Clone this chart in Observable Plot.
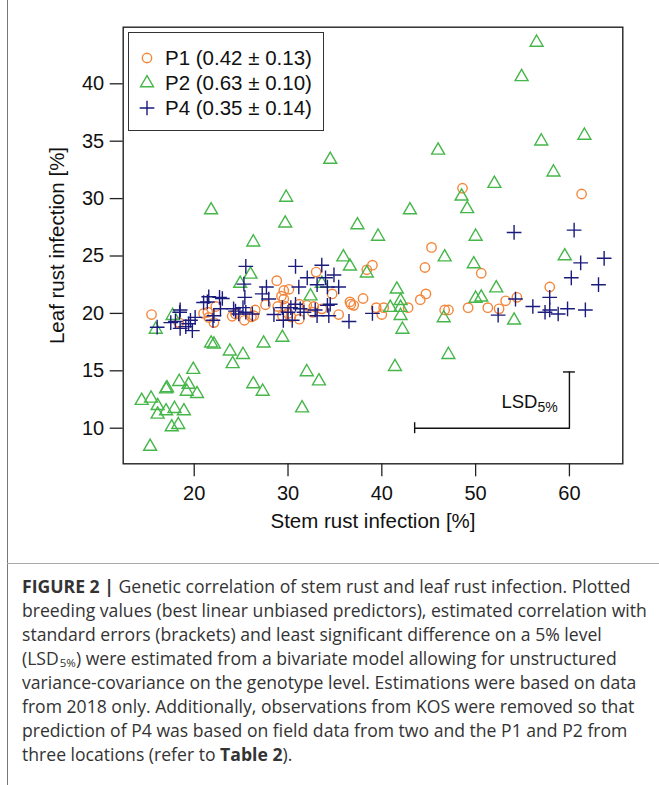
<!DOCTYPE html>
<html>
<head>
<meta charset="utf-8">
<script src="https://cdn.jsdelivr.net/npm/d3@7"></script>
<script src="https://cdn.jsdelivr.net/npm/@observablehq/plot@0.6"></script>
<style>
  html, body { margin: 0; padding: 0; background: #fff; }
  #fig { position: relative; width: 659px; height: 785px; overflow: hidden; }
  #chart { position: absolute; left: 0; top: 0; }
  #leftline { position: absolute; left: 7px; top: 0; width: 1px; height: 785px; background: #777; }
  #capline { position: absolute; left: 7px; top: 563px; width: 652px; height: 1px; background: #aaa; }
  #legend { position: absolute; left: 128px; top: 32px; width: 196px; height: 99px;
            border: 1.3px solid #333; font-family: "Liberation Sans", Arial, sans-serif;
            font-size: 20.5px; color: #111; box-sizing: border-box; }
  #legend .row { position: absolute; left: 0; height: 24px; white-space: nowrap; }
  #legend svg { position: absolute; left: 8px; top: 2px; }
  #legend span { position: absolute; left: 36px; top: 0; line-height: 24px; }
  #caption { position: absolute; left: 22px; top: 574px; font-family: "Open Sans", sans-serif;
             font-size: 17.6px; line-height: 24px; color: #333; white-space: nowrap; }
  #caption sub { font-size: 11.5px; line-height: 1; vertical-align: -2px; margin-left: 1px; }
</style>
</head>
<body>
<div id="fig">
  <div id="chart"></div>
  <div id="leftline"></div>
  <div id="legend"></div>
  <div id="capline"></div>
  <div id="caption"></div>
</div>
<script>
// ---- data ----
const seriesNames = ["P1", "P2", "P4"];
const seriesStats = ["0.42 ± 0.13", "0.63 ± 0.10", "0.35 ± 0.14"];
const seriesColors = ["#f4863b", "#45b649", "#1b1b7d"];
const seriesSymbols = ["circle", "triangle", "plus"];

const p1x = [48.6, 61.3, 45.3, 44.6, 39.0, 38.4, 50.6, 33.0, 28.8, 57.9, 30.1, 29.55, 34.7, 44.7, 29.3, 54.4, 38.0, 29.55, 44.1, 53.2,
             36.6, 31.2, 36.7, 37.0, 27.6, 32.0, 28.9, 29.7, 32.75, 39.4, 40.2, 42.8, 49.2, 51.3, 33.6, 46.7, 47.1, 52.5, 26.5, 22.3,
             32.6, 21.45, 21.0, 30.0, 40.0, 35.4, 15.45, 24.4, 24.05, 26.35, 29.4, 30.3, 21.55, 26.1, 31.2, 25.35, 18.35, 22.1];
const p1y = [30.9, 30.4, 25.75, 24.0, 24.2, 23.8, 23.5, 23.6, 22.85, 22.3, 22.1, 22.0, 21.7, 21.7, 21.5, 21.4, 21.3, 21.25, 21.2, 21.1,
             21.0, 20.8, 20.8, 20.7, 20.75, 20.7, 20.6, 20.6, 20.6, 20.5, 20.5, 20.5, 20.5, 20.5, 20.4, 20.3, 20.3, 20.4, 20.3, 20.6,
             20.1, 20.1, 20.0, 20.0, 19.9, 19.9, 19.9, 19.95, 19.75, 19.8, 19.8, 19.7, 19.65, 19.7, 19.5, 19.4, 19.2, 19.2];

const p2x = [56.5, 54.9, 57.0, 61.6, 46.0, 58.3, 34.5, 52.0, 48.5, 29.8, 21.8, 43.0, 49.1, 29.7, 37.4, 39.6, 50.0, 26.3, 35.9, 46.7,
             59.5, 36.6, 49.8, 38.4, 26.0, 24.9, 33.6, 41.6, 52.2, 32.4, 42.0, 50.0, 50.6, 40.9, 42.0, 42.0, 46.6, 54.1, 42.2, 17.7,
             15.9, 29.4, 21.8, 22.1, 27.4, 23.8, 25.2, 47.1, 24.1, 41.4, 19.9, 32.0, 33.3, 18.4, 26.3, 19.4, 17.1, 17.0, 19.2, 27.3,
             20.3, 14.4, 15.4, 16.1, 31.5, 17.9, 17.0, 18.9, 16.1, 18.3, 17.6, 15.3];
const p2y = [43.6, 40.6, 35.0, 35.5, 34.2, 32.3, 33.4, 31.3, 30.2, 30.1, 29.0, 29.0, 29.1, 27.85, 27.7, 26.7, 26.7, 26.2, 24.9, 24.9,
             25.0, 24.1, 24.3, 23.5, 23.4, 22.6, 22.6, 22.1, 22.2, 21.5, 21.1, 21.3, 21.4, 20.5, 20.5, 19.8, 19.6, 19.4, 18.6, 19.8,
             18.6, 17.9, 17.4, 17.3, 17.4, 16.7, 16.4, 16.4, 15.6, 15.35, 15.1, 14.9, 14.1, 14.05, 13.85, 13.8, 13.5, 13.4, 13.2, 13.2,
             13.0, 12.4, 12.6, 11.95, 11.75, 11.7, 11.5, 11.5, 11.2, 10.3, 10.1, 8.4];

const p4x = [54.1, 60.5, 63.7, 61.2, 60.2, 63.1, 57.9, 56.1, 57.4, 58.8, 59.8, 61.7, 54.25, 52.4, 57.9, 36.5, 39.0, 25.5, 25.3, 27.7,
             21.4, 23.0, 21.55, 22.7, 16.05, 17.5, 18.45, 19.1, 19.8, 19.6, 21.0, 22.1, 22.8, 24.2, 24.75, 25.5, 25.4, 18.0, 18.5, 19.4,
             20.1, 18.5, 22.0, 24.4, 25.2, 28.5, 29.4, 30.3, 31.7, 33.1, 34.35, 34.5, 29.5, 30.0, 31.3, 30.8, 33.6, 34.9, 34.0, 32.05,
             31.15, 33.1, 35.4, 27.25, 27.95, 30.8, 30.45, 32.9, 34.2, 26.2, 34.2];
const p4y = [27.05, 27.25, 24.8, 24.4, 23.1, 22.5, 21.4, 20.6, 20.1, 19.95, 20.4, 20.3, 21.25, 19.85, 20.3, 19.3, 20.0, 24.1, 22.55, 22.3,
             21.0, 21.3, 21.45, 21.4, 18.8, 19.2, 20.1, 18.85, 18.5, 19.4, 20.95, 19.8, 20.4, 20.4, 19.95, 20.1, 21.4, 19.3, 18.7, 19.1,
             19.65, 20.3, 19.4, 20.2, 20.5, 19.9, 20.5, 20.5, 20.1, 19.8, 19.8, 20.8, 19.4, 20.1, 20.4, 24.1, 24.2, 23.35, 23.1, 23.1,
             22.3, 22.5, 22.3, 21.7, 21.25, 20.8, 19.4, 20.3, 20.7, 19.95, 22.3];

const xTicks = [20, 30, 40, 50, 60];
const yTicks = [10, 15, 20, 25, 30, 35, 40];
const xDomain = [12.43, 65.69];
const yDomain = [6.9, 44.93];
const xLabel = "Stem rust infection [%]";
const yLabel = "Leaf rust infection [%]";

// LSD (5%) bars: corner point and lengths in x and y
const lsdCorner = [60, 10];
const lsdValues = [16.5, 4.9];

// ---- build tables ----
const points = [];
[[p1x, p1y], [p2x, p2y], [p4x, p4y]].forEach(([xs, ys], s) => {
  xs.forEach((x, i) => points.push({series: seriesNames[s], x, y: ys[i]}));
});
const lsdPath = [
  {x: lsdCorner[0] - lsdValues[0], y: lsdCorner[1]},
  {x: lsdCorner[0], y: lsdCorner[1]},
  {x: lsdCorner[0], y: lsdCorner[1] + lsdValues[1]}
];

const font = "'Liberation Sans', Arial, sans-serif";
const radius = {circle: 4.7, triangle: 4.8, plus: 4.8};

const marks = [
  Plot.frame({stroke: "#222", strokeWidth: 1.4}),
  Plot.axisY(yTicks, {tickSize: 13, tickPadding: 6, fontSize: 20, label: null, stroke: "#222", strokeWidth: 1.3, fill: "#111"}),
  Plot.axisX(xTicks, {tickSize: 13, tickPadding: 9, fontSize: 20, label: null, stroke: "#222", strokeWidth: 1.3, fill: "#111"}),
  Plot.text([xLabel], {frameAnchor: "bottom", textAnchor: "middle", dy: 64, fontSize: 20.5, fill: "#111", text: d => d}),
  Plot.text([yLabel], {frameAnchor: "left", textAnchor: "middle", dx: -66, rotate: -90, fontSize: 20.5, fill: "#111", text: d => d})
];
seriesNames.forEach((name, s) => {
  marks.push(Plot.dot(points.filter(d => d.series === name), {
    x: "x", y: "y", symbol: () => seriesSymbols[s], r: radius[seriesSymbols[s]],
    stroke: seriesColors[s], fill: "none", strokeWidth: 1.4
  }));
});
marks.push(
  Plot.line(lsdPath, {x: "x", y: "y", stroke: "#111", strokeWidth: 1.4}),
  Plot.ruleX([lsdPath[0]], {x: "x", y1: "y", y2: "y", insetTop: -5.5, insetBottom: -5.5, stroke: "#111", strokeWidth: 1.4}),
  Plot.ruleY([lsdPath[2]], {y: "y", x1: "x", x2: "x", insetLeft: -6, insetRight: -6, stroke: "#111", strokeWidth: 1.4}),
  Plot.text([lsdPath[1]], {x: "x", y: "y", text: () => "LSD", textAnchor: "end", lineAnchor: "bottom", dx: -32, dy: -20, fontSize: 18.5, fill: "#111"}),
  Plot.text([lsdPath[1]], {x: "x", y: "y", text: () => "5%", textAnchor: "start", lineAnchor: "bottom", dx: -32, dy: -16, fontSize: 14, fill: "#111"})
);

const chart = Plot.plot({
  width: 659,
  height: 560,
  marginLeft: 122.7,
  marginRight: 36.7,
  marginTop: 26.7,
  marginBottom: 96.7,
  style: {fontFamily: font, background: "transparent", color: "#111"},
  x: {domain: xDomain},
  y: {domain: yDomain},
  symbol: {type: "identity"},
  marks
});
document.getElementById("chart").appendChild(chart);

// ---- legend ----
const legend = document.getElementById("legend");
seriesNames.forEach((name, s) => {
  const row = document.createElement("div");
  row.className = "row";
  row.style.top = (13 + s * 25) + "px";
  const ns = "http://www.w3.org/2000/svg";
  const svg = document.createElementNS(ns, "svg");
  svg.setAttribute("width", 20); svg.setAttribute("height", 20);
  const sym = seriesSymbols[s] === "circle" ? d3.symbolCircle : seriesSymbols[s] === "triangle" ? d3.symbolTriangle : d3.symbolPlus;
  const r = radius[seriesSymbols[s]];
  const p = document.createElementNS(ns, "path");
  p.setAttribute("d", d3.symbol(sym, Math.PI * r * r)());
  p.setAttribute("transform", "translate(10,10)");
  p.setAttribute("fill", "none");
  p.setAttribute("stroke", seriesColors[s]);
  p.setAttribute("stroke-width", 1.4);
  svg.appendChild(p);
  row.appendChild(svg);
  const span = document.createElement("span");
  span.textContent = `${name} (${seriesStats[s]})`;
  row.appendChild(span);
  legend.appendChild(row);
});

// ---- caption ----
document.getElementById("caption").innerHTML =
  "<b>FIGURE 2 |</b> Genetic correlation of stem rust and leaf rust infection. Plotted<br>" +
  "breeding values (best linear unbiased predictors), estimated correlation with<br>" +
  "standard errors (brackets) and least significant difference on a 5% level<br>" +
  "(LSD<sub>5%</sub>) were estimated from a bivariate model allowing for unstructured<br>" +
  "variance-covariance on the genotype level. Estimations were based on data<br>" +
  "from 2018 only. Additionally, observations from KOS were removed so that<br>" +
  "prediction of P4 was based on field data from two and the P1 and P2 from<br>" +
  "three locations (refer to <b>Table 2</b>).";
</script>
</body>
</html>
